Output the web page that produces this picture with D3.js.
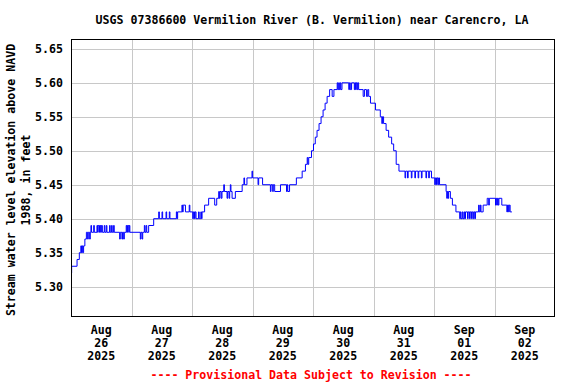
<!DOCTYPE html>
<html>
<head>
<meta charset="utf-8">
<script src="https://cdn.jsdelivr.net/npm/d3@7"></script>
<style>
  html, body { margin: 0; padding: 0; background: #fff; }
  text { font-family: "DejaVu Sans Mono", "Liberation Mono", monospace; font-weight: bold; font-size: 11.6px; }
</style>
</head>
<body>
<div id="chart"></div>
<script>
// gage height readings, hours after Aug 26 2025 00:00 -> feet
const readings = [
  [0,5.32],[0.25,5.33],[2.4,5.34],[3.3,5.35],[3.9,5.36],[4.15,5.35],[4.4,5.36],[4.65,5.35],[5.0,5.36],[5.5,5.37],[6.1,5.38],
  [6.6,5.37],[6.85,5.38],[7.4,5.37],[7.65,5.38],
  [7.9,5.39],[8.15,5.38],[9.0,5.39],[9.25,5.38],
  [10.3,5.39],[10.55,5.38],[10.8,5.39],[11.3,5.38],[11.55,5.39],[11.8,5.38],[12.05,5.39],[12.45,5.38],
  [13.2,5.39],[13.45,5.38],[14.0,5.39],[14.25,5.38],[15.3,5.39],[15.55,5.38],[16.1,5.39],[16.35,5.38],[16.9,5.39],[17.15,5.38],
  [19.3,5.37],[19.55,5.38],[20.2,5.37],[20.45,5.38],[20.9,5.37],[21.15,5.38],
  [21.9,5.39],[22.15,5.38],[22.4,5.39],[22.9,5.38],[23.1,5.39],[23.35,5.38],
  [27.5,5.37],[27.75,5.38],[28.2,5.37],[28.45,5.38],
  [29.1,5.39],[29.35,5.38],[29.8,5.39],[30.05,5.38],[30.8,5.39],
  [32.8,5.40],
  [34.8,5.41],[35.05,5.40],[36.1,5.41],[36.35,5.40],[37.7,5.41],[37.95,5.40],[39.0,5.41],[39.25,5.40],
  [41.8,5.41],[42.05,5.40],[42.3,5.41],
  [44.0,5.42],[44.25,5.41],[44.5,5.42],[45.4,5.41],
  [46.9,5.42],[47.15,5.41],
  [48.3,5.40],[48.55,5.41],[49.0,5.40],[49.25,5.41],[49.6,5.40],[50.6,5.41],[50.85,5.40],[51.5,5.41],[51.75,5.40],
  [52.0,5.41],[53.0,5.42],[54.6,5.43],
  [57.0,5.42],[57.8,5.43],
  [58.6,5.44],[58.85,5.43],[59.1,5.44],[59.6,5.43],[59.9,5.44],
  [60.6,5.45],[60.85,5.44],
  [61.9,5.43],[62.15,5.44],[62.7,5.43],[62.95,5.44],
  [63.2,5.45],[63.45,5.44],[63.9,5.43],
  [65.2,5.44],
  [67.9,5.45],[68.6,5.46],[68.85,5.45],[69.8,5.46],
  [71.8,5.47],[72.05,5.46],
  [74.2,5.45],[74.45,5.46],
  [76.0,5.45],
  [79.1,5.44],[79.35,5.45],[80.0,5.44],[80.25,5.45],
  [80.8,5.44],[83.1,5.45],
  [85.5,5.44],[85.75,5.45],[86.0,5.44],[86.7,5.45],
  [89.4,5.46],[91.7,5.47],[93.0,5.48],[93.7,5.49],[93.95,5.48],[94.3,5.49],
  [95.4,5.50],[96.2,5.51],[96.9,5.52],[97.6,5.53],[98.4,5.54],[99.2,5.55],[100.0,5.56],[100.8,5.57],[101.6,5.58],[102.6,5.59],
  [103.6,5.58],[104.3,5.59],
  [105.6,5.60],[105.85,5.59],[106.2,5.60],[106.45,5.59],[106.8,5.60],[107.05,5.59],[107.5,5.60],
  [110.2,5.59],[110.45,5.60],[110.8,5.59],[111.3,5.60],
  [112.4,5.59],[112.65,5.60],[112.9,5.59],[113.15,5.60],[113.5,5.59],[113.75,5.60],
  [114.1,5.59],
  [115.9,5.58],[116.4,5.59],[117.2,5.58],[117.7,5.59],
  [118.1,5.58],[118.8,5.57],
  [120.8,5.56],[122.7,5.55],[123.3,5.54],[123.55,5.55],[124.0,5.54],[125.0,5.53],[126.0,5.52],[127.2,5.51],[128.0,5.50],[129.0,5.48],[130.1,5.47],
  [132.5,5.46],[132.75,5.47],[133.5,5.46],[133.75,5.47],[135.0,5.46],[135.25,5.47],[136.4,5.46],[136.65,5.47],
  [137.7,5.46],[137.95,5.47],[139.0,5.46],[139.25,5.47],[140.8,5.46],[141.05,5.47],[141.9,5.46],[142.15,5.47],
  [143.0,5.46],
  [144.3,5.45],[144.55,5.46],[145.0,5.45],[145.25,5.46],[145.6,5.45],[145.85,5.46],[146.2,5.45],
  [148.8,5.44],[149.05,5.43],[149.3,5.44],[149.55,5.43],[149.8,5.44],
  [150.5,5.43],[151.3,5.42],[152.7,5.41],
  [154.2,5.40],[154.45,5.41],[154.7,5.40],[155.2,5.41],[155.45,5.40],[155.9,5.41],[156.15,5.40],[156.5,5.41],
  [157.3,5.40],[157.55,5.41],[158.1,5.40],[158.35,5.41],[158.9,5.40],[159.15,5.41],[159.6,5.40],[159.85,5.41],[160.2,5.40],[160.45,5.41],
  [161.7,5.42],[161.95,5.41],[162.4,5.42],[162.65,5.41],[163.5,5.42],
  [165.1,5.43],[165.7,5.42],[165.95,5.43],[168.4,5.42],[168.65,5.43],[168.9,5.42],[169.15,5.43],[169.5,5.42],[169.75,5.43],
  [170.9,5.42],
  [172.9,5.41],[173.15,5.42],[173.6,5.41],[173.85,5.42],[174.2,5.41],[174.9,5.41]
];

const yTicks = [5.30, 5.35, 5.40, 5.45, 5.50, 5.55, 5.60, 5.65];
const yExtent = [5.2568, 5.6637];
const dayLabels = [
  ['Aug', '26', '2025'], ['Aug', '27', '2025'], ['Aug', '28', '2025'], ['Aug', '29', '2025'],
  ['Aug', '30', '2025'], ['Aug', '31', '2025'], ['Sep', '01', '2025'], ['Sep', '02', '2025']
];
const title = 'USGS 07386600 Vermilion River (B. Vermilion) near Carencro, LA';
const yTitle = ['Stream water level elevation above NAVD', '1988, in feet'];
const footer = '---- Provisional Data Subject to Revision ----';

const W = 576, H = 384;
const box = { left: 71, top: 39.5, right: 555, bottom: 316 };
const t0 = Date.UTC(2025, 7, 26);
const hourMs = 3600e3;

const svg = d3.select('#chart').append('svg')
  .attr('width', W)
  .attr('height', H);

const x = d3.scaleUtc()
  .domain([new Date(t0), new Date(t0 + 8 * 24 * hourMs)])
  .range([box.left, box.right]);

const y = d3.scaleLinear()
  .domain(yExtent)
  .range([box.bottom, box.top]);

// horizontal grid + tick labels
const yAxis = svg.append('g')
  .attr('transform', `translate(${box.left},0)`)
  .call(d3.axisLeft(y).tickValues(yTicks).tickSize(-(box.right - box.left)).tickFormat(d3.format('.2f')).tickPadding(8));
yAxis.select('.domain').remove();
yAxis.selectAll('line').attr('stroke', '#c8c8c8').attr('shape-rendering', 'crispEdges');
yAxis.selectAll('text').attr('fill', '#000').style('font-size', '11.6px');

// vertical grid at midnight
const midnights = d3.range(1, 8).map(i => new Date(t0 + i * 24 * hourMs));
const xAxis = svg.append('g')
  .attr('transform', `translate(0,${box.bottom})`)
  .call(d3.axisBottom(x).tickValues(midnights).tickSize(-(box.bottom - box.top)).tickFormat(''));
xAxis.select('.domain').remove();
xAxis.selectAll('line').attr('stroke', '#c8c8c8').attr('shape-rendering', 'crispEdges');

// day labels at noon
const lbl = svg.append('g').selectAll('text')
  .data(dayLabels)
  .join('text')
  .attr('text-anchor', 'middle')
  .attr('x', (d, i) => x(new Date(t0 + (i * 24 + 12) * hourMs)))
  .attr('y', 334);
lbl.each(function (d) {
  const t = d3.select(this);
  d.forEach((s, k) => {
    t.append('tspan').attr('x', t.attr('x')).attr('dy', k === 0 ? 0 : 13).text(s);
  });
});

// the series
const line = d3.line()
  .x(d => x(new Date(t0 + d[0] * hourMs)))
  .y(d => y(d[1]))
  .curve(d3.curveStepAfter);

svg.append('path')
  .datum(readings)
  .attr('fill', 'none')
  .attr('stroke', '#0000ff')
  .attr('stroke-width', 1)
  .attr('d', line);

// frame
svg.append('rect')
  .attr('x', box.left + 0.5)
  .attr('y', box.top)
  .attr('width', box.right - box.left - 1)
  .attr('height', box.bottom - box.top)
  .attr('fill', 'none')
  .attr('stroke', '#000')
  .attr('stroke-width', 1)
  .attr('shape-rendering', 'crispEdges');

svg.append('text')
  .attr('x', (box.left + box.right) / 2 - 1)
  .attr('y', 24)
  .attr('text-anchor', 'middle')
  .text(title);

svg.append('g')
  .attr('transform', 'translate(15,180) rotate(-90)')
  .selectAll('text')
  .data(yTitle)
  .join('text')
  .attr('text-anchor', 'middle')
  .attr('x', 0)
  .attr('y', (d, i) => i * 14.5)
  .text(d => d);

svg.append('text')
  .attr('x', 311)
  .attr('y', 379)
  .attr('text-anchor', 'middle')
  .attr('fill', '#ff0000')
  .text(footer);
</script>
</body>
</html>
